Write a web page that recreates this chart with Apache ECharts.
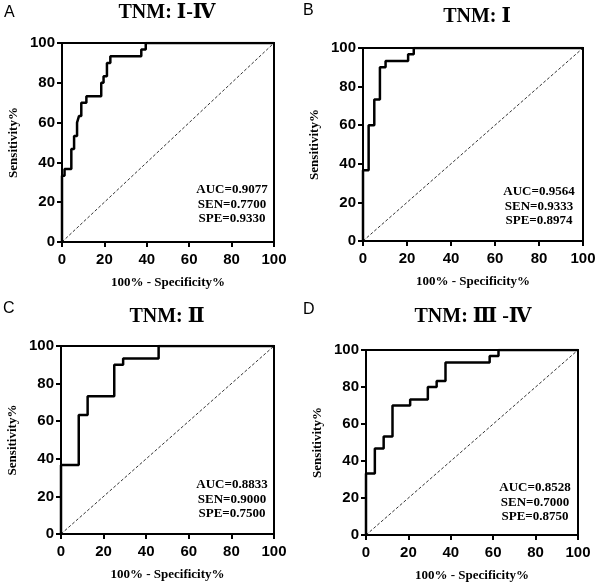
<!DOCTYPE html>
<html><head><meta charset="utf-8">
<script src="https://cdn.jsdelivr.net/npm/echarts@6/dist/echarts.min.js"></script>
<style>html,body{margin:0;padding:0;background:#fff}#c{width:600px;height:585px}</style>
</head><body><div id="c"></div>
<script>
// ---- data ----
const axisTicks = [0, 20, 40, 60, 80, 100];
const panelLetters = ['A', 'B', 'C', 'D'];
const panelTitles = ['TNM: Ⅰ-Ⅳ', 'TNM: Ⅰ', 'TNM: Ⅱ', 'TNM: Ⅲ -Ⅳ'];
const xAxisTitle = '100% - Specificity%';
const yAxisTitle = 'Sensitivity%';
const fprA = [0, 0, 1.2, 4.4, 5.7, 7.1, 8.0, 9.1, 11.5, 18.5, 19.6, 21.2, 22.8, 37.4, 39.5, 100];
const tprA = [0, 33.3, 36.7, 46.7, 53.3, 60.0, 63.3, 70.0, 73.3, 80.0, 83.3, 90.0, 93.3, 96.7, 100, 100];
const fprB = [0, 0, 2.56, 5.13, 7.69, 10.26, 20.51, 23.08, 100];
const tprB = [0, 36.7, 60.0, 73.3, 90.0, 93.3, 96.7, 100, 100];
const fprC = [0, 0, 8.33, 12.5, 25.0, 29.17, 45.83, 100];
const tprC = [0, 36.7, 63.3, 73.3, 90.0, 93.3, 100, 100];
const fprD = [0, 0, 4.17, 8.33, 12.5, 20.83, 29.17, 33.33, 37.5, 58.33, 62.5, 100];
const tprD = [0, 33.3, 46.7, 53.3, 70.0, 73.3, 80.0, 83.3, 93.3, 96.7, 100, 100];
const statsA = ['AUC=0.9077', 'SEN=0.7700', 'SPE=0.9330'];
const statsB = ['AUC=0.9564', 'SEN=0.9333', 'SPE=0.8974'];
const statsC = ['AUC=0.8833', 'SEN=0.9000', 'SPE=0.7500'];
const statsD = ['AUC=0.8528', 'SEN=0.7000', 'SPE=0.8750'];
const referenceLine = [[0, 0], [100, 100]];

// ---- layout ----
const SANS = 'Arial, "Liberation Sans", sans-serif';
const SERIF = '"Times New Roman", "Liberation Serif", "DejaVu Serif", serif';
const panels = [
  {fpr: fprA, tpr: tprA, stats: statsA, grid: {left: 62, top: 43, width: 212, height: 199}, letter: [4, 5], title: [167, 13], stat: [232, 190]},
  {fpr: fprB, tpr: tprB, stats: statsB, grid: {left: 363, top: 48, width: 220, height: 193}, letter: [303, 3], title: [477, 17], stat: [539, 192]},
  {fpr: fprC, tpr: tprC, stats: statsC, grid: {left: 61, top: 346, width: 213, height: 188}, letter: [3, 301], title: [167, 317], stat: [232, 485]},
  {fpr: fprD, tpr: tprD, stats: statsD, grid: {left: 366, top: 350, width: 212, height: 185}, letter: [303, 302], title: [473, 317], stat: [535, 488]}
];

const grids = [], xAxes = [], yAxes = [], series = [], graphics = [];
panels.forEach((p, i) => {
  grids.push(Object.assign({show: true, borderColor: '#000', borderWidth: 2, backgroundColor: '#fff'}, p.grid));
  const common = {
    type: 'value', min: axisTicks[0], max: axisTicks[axisTicks.length - 1], interval: axisTicks[1] - axisTicks[0],
    gridIndex: i, splitLine: {show: false},
    axisLine: {show: true, lineStyle: {color: '#000', width: 2}},
    axisTick: {show: true, length: 5, lineStyle: {color: '#000', width: 2}},
    nameLocation: 'middle',
    nameTextStyle: {fontFamily: SERIF, fontWeight: 'bold', fontSize: 13, color: '#000'}
  };
  xAxes.push(Object.assign({}, common, {
    name: xAxisTitle, nameGap: 34,
    axisLabel: {margin: 10, fontFamily: SANS, fontWeight: 'bold', fontSize: 15, color: '#000'}
  }));
  yAxes.push(Object.assign({}, common, {
    name: yAxisTitle, nameGap: 42,
    axisLabel: {margin: 7, fontFamily: SANS, fontWeight: 'bold', fontSize: 15, color: '#000'}
  }));
  series.push({
    type: 'line', xAxisIndex: i, yAxisIndex: i, data: referenceLine, symbol: 'none', silent: true,
    lineStyle: {color: '#333', width: 1, type: [3, 2]}
  });
  series.push({
    type: 'line', xAxisIndex: i, yAxisIndex: i, step: 'end', symbol: 'none', silent: true,
    data: p.fpr.map((x, k) => [x, p.tpr[k]]),
    lineStyle: {color: '#000', width: 2.5}
  });
  graphics.push({type: 'text', left: p.letter[0], top: p.letter[1],
    style: {text: panelLetters[i], font: '16px ' + SANS, fill: '#000'}});
  graphics.push({type: 'text', x: p.title[0], y: p.title[1],
    style: {text: panelTitles[i], font: 'bold 20px ' + SERIF, fill: '#000', textAlign: 'center', textVerticalAlign: 'middle'}});
  p.stats.forEach((s, k) => {
    graphics.push({type: 'text', x: p.stat[0], y: p.stat[1] + k * 14.5,
      style: {text: s, font: 'bold 13px ' + SERIF, fill: '#000', textAlign: 'center', textVerticalAlign: 'middle'}});
  });
});

const chart = echarts.init(document.getElementById('c'), null, {renderer: 'canvas'});
chart.setOption({
  animation: false, backgroundColor: '#fff',
  grid: grids, xAxis: xAxes, yAxis: yAxes, series: series, graphic: graphics
});
</script></body></html>
